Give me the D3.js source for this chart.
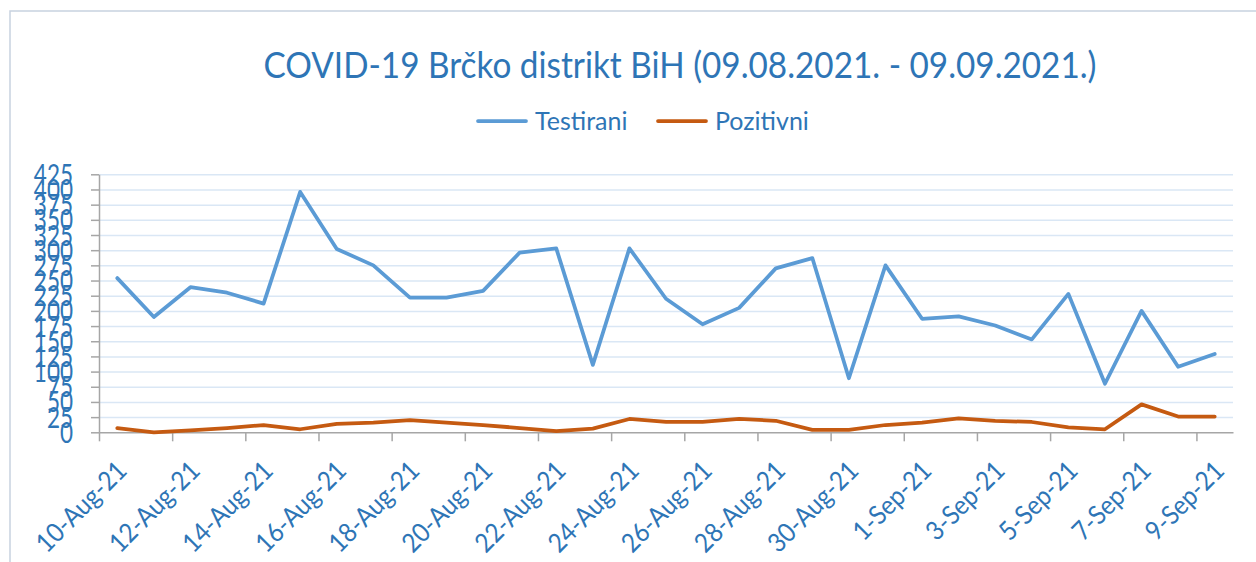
<!DOCTYPE html>
<html>
<head>
<meta charset="utf-8">
<script src="https://cdn.jsdelivr.net/npm/d3@7"></script>
<style>
  body { margin: 0; background: #fff; }
  text { font-family: Lato, 'Open Sans', sans-serif; fill: #2e75b6; }
</style>
</head>
<body>
<div id="chartDiv"></div>
<script>
// DATA
var dates = ['10-Aug-21', '11-Aug-21', '12-Aug-21', '13-Aug-21', '14-Aug-21', '15-Aug-21', '16-Aug-21', '17-Aug-21',
  '18-Aug-21', '19-Aug-21', '20-Aug-21', '21-Aug-21', '22-Aug-21', '23-Aug-21', '24-Aug-21', '25-Aug-21',
  '26-Aug-21', '27-Aug-21', '28-Aug-21', '29-Aug-21', '30-Aug-21', '31-Aug-21', '1-Sep-21', '2-Sep-21',
  '3-Sep-21', '4-Sep-21', '5-Sep-21', '6-Sep-21', '7-Sep-21', '8-Sep-21', '9-Sep-21'];
var testirani = [254, 190, 239, 230, 212, 396, 302, 275, 222, 222, 233, 296, 303, 111, 303, 220,
  178, 205, 270, 287, 89, 275, 187, 191, 176, 153, 228, 80, 200, 108, 129];
var pozitivni = [7, 0, 3, 7, 12, 5, 14, 16, 20, 16, 12, 7, 2, 6, 22, 17,
  17, 22, 19, 4, 4, 12, 16, 23, 19, 17, 8, 5, 46, 26, 26];
var yTicks = [0, 25, 50, 75, 100, 125, 150, 175, 200, 225, 250, 275, 300, 325, 350, 375, 400, 425];
var seriesNames = ['Testirani', 'Pozitivni'];
var seriesColors = ['#5b9bd5', '#c55a11'];
var title = 'COVID-19 Brčko distrikt BiH (09.08.2021. - 09.09.2021.)';

// plot box (window.top is taken, so own names)
var w = 1256, h = 562,
  plotL = 99, plotR = 1233, plotT = 174.3, plotB = 432.3;

var svg = d3.select('#chartDiv').append('svg')
  .attr('width', w)
  .attr('height', h);

// chart border
svg.append('rect')
  .attr('x', 10).attr('y', 11)
  .attr('width', 1400).attr('height', 700)
  .attr('fill', 'none')
  .attr('stroke', '#c8d2df')
  .attr('stroke-width', 1.5);

// title
svg.append('text')
  .attr('transform', 'translate(680,78) scale(1,1.1)')
  .attr('text-anchor', 'middle')
  .style('font-size', '33.3px')
  .text(title);

// scales
var xScale = d3.scaleBand()
  .domain(dates)
  .range([plotL, plotR]);
var xIdx = d3.scaleLinear()
  .domain([0, dates.length])
  .range([plotL, plotR]);
var yScale = d3.scaleLinear()
  .domain([0, 425])
  .range([plotB, plotT]);

// gridlines
svg.append('g')
  .classed('grid', true)
  .attr('transform', 'translate(' + plotL + ',0)')
  .call(d3.axisLeft(yScale).tickValues(yTicks.slice(1)).tickSize(-(plotR - plotL)).tickFormat(''))
  .call(function(g) {
    g.select('.domain').remove();
    g.selectAll('line').attr('stroke', '#dae7f5').attr('stroke-width', 1.5);
  });

// Y axis
svg.append('g')
  .classed('y-axis', true)
  .attr('transform', 'translate(' + plotL + ',0)')
  .call(d3.axisLeft(yScale).tickValues(yTicks).tickSize(8).tickSizeOuter(0).tickFormat(''))
  .call(function(g) {
    g.select('.domain').attr('stroke', '#a6a6a6').attr('stroke-width', 1.5);
    g.selectAll('line').attr('stroke', '#a6a6a6').attr('stroke-width', 1.5);
  });

svg.append('g').selectAll('text')
  .data(yTicks)
  .enter().append('text')
  .attr('transform', function(d) { return 'translate(73,' + yScale(d) + ') scale(1,1.3)'; })
  .attr('text-anchor', 'end')
  .attr('dy', '0.36em')
  .style('font-size', '22.5px')
  .text(function(d) { return d; });

// X axis (ticks on category boundaries, every 2nd)
var evenIdx = d3.range(0, dates.length, 2);
svg.append('g')
  .classed('x-axis', true)
  .attr('transform', 'translate(0,' + plotB + ')')
  .call(d3.axisBottom(xIdx).tickValues(evenIdx).tickSize(9).tickSizeOuter(0).tickFormat(''))
  .call(function(g) {
    g.select('.domain').attr('stroke', '#a6a6a6').attr('stroke-width', 1.5);
    g.selectAll('line').attr('stroke', '#a6a6a6').attr('stroke-width', 1.5);
  });

svg.append('g').selectAll('text')
  .data(evenIdx)
  .enter().append('text')
  .attr('transform', function(i) {
    var cx = xScale(dates[i]) + xScale.bandwidth() / 2;
    return 'translate(' + (cx - 2) + ',' + (plotB + 27) + ') rotate(-45) scale(1,1.1)';
  })
  .attr('text-anchor', 'end')
  .attr('dy', '0.7em')
  .style('font-size', '24px')
  .text(function(i) { return dates[i]; });

// lines
var line = d3.line()
  .x(function(d, i) { return xScale(dates[i]) + xScale.bandwidth() / 2; })
  .y(function(d) { return yScale(d); });

[testirani, pozitivni].forEach(function(s, k) {
  svg.append('path')
    .datum(s)
    .attr('fill', 'none')
    .attr('stroke', seriesColors[k])
    .attr('stroke-width', 3.75)
    .attr('stroke-linejoin', 'round')
    .attr('stroke-linecap', 'round')
    .attr('d', line);
});

// legend
var legendX = [478, 658];
seriesNames.forEach(function(name, k) {
  svg.append('line')
    .attr('x1', legendX[k]).attr('x2', legendX[k] + 48)
    .attr('y1', 121).attr('y2', 121)
    .attr('stroke', seriesColors[k])
    .attr('stroke-width', 3.75)
    .attr('stroke-linecap', 'round');
  svg.append('text')
    .attr('transform', 'translate(' + (legendX[k] + 57) + ',121)')
    .attr('dy', '0.36em')
    .style('font-size', '25px')
    .text(name);
});
</script>
</body>
</html>
